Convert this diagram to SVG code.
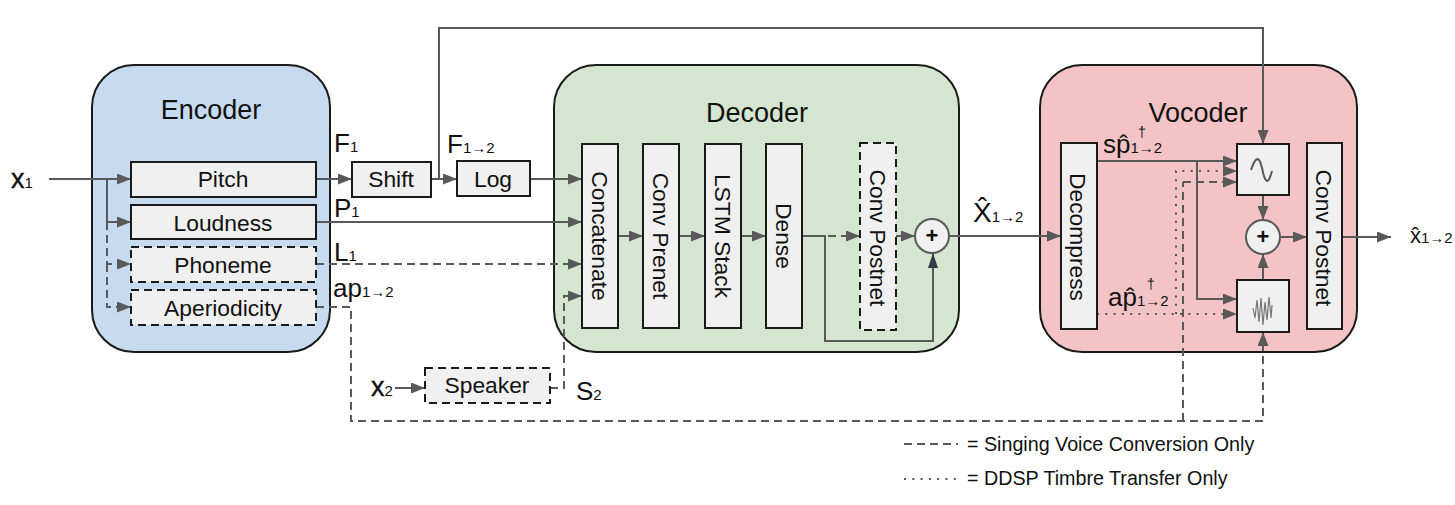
<svg xmlns="http://www.w3.org/2000/svg" width="1455" height="505" viewBox="0 0 1455 505">
<defs>
<marker id="a" viewBox="0 0 14 11" markerWidth="14" markerHeight="11" refX="14" refY="5.5" orient="auto" markerUnits="userSpaceOnUse"><path d="M0 0L14 5.5L0 11Z" fill="#595959"/></marker>
</defs>
<style>
text{font-family:"Liberation Sans",Arial,sans-serif;fill:#111}
.grp{stroke:#1a1a1a;stroke-width:2}
.box{fill:#f0f0f0;stroke:#1a1a1a;stroke-width:2}
.dbox{fill:#f0f0f0;stroke:#1a1a1a;stroke-width:2;stroke-dasharray:8 5}
.l{font-size:22.8px;text-anchor:middle}
.t{font-size:27px;text-anchor:middle}
.m{font-size:26px}
.m tspan.s{font-size:15px}
.xx{font-size:27px;stroke:#111;stroke-width:.4}
.xx tspan.s{font-size:15px;stroke:none}
.dg{font-size:14px}
.c{fill:none;stroke:#595959;stroke-width:2}
.e{marker-end:url(#a)}
.d{stroke-dasharray:8 5}
.o{stroke-dasharray:2 6.3}
</style>
<rect width="1455" height="505" fill="#fff"/>
<g id="encoder"><rect class="grp" x="92" y="65" width="238" height="287" rx="42" fill="#c6dbef"/><text class="t" x="211" y="119">Encoder</text></g>
<g id="decoder"><rect class="grp" x="554" y="65" width="405" height="287" rx="42" fill="#d4e5d0"/><text class="t" x="757" y="122">Decoder</text></g>
<g id="vocoder"><rect class="grp" x="1040" y="65" width="317" height="287" rx="42" fill="#f3c3c6"/><text class="t" x="1198" y="122">Vocoder</text></g>
<g id="connectors">
<path class="c e" d="M49 179H131"/>
<path class="c e" d="M107 179V222H131"/>
<path class="c e d" d="M107 222V264H131"/>
<path class="c e d" d="M107 264V307H131"/>
<path class="c e" d="M316 179H352"/>
<path class="c e" d="M431 179H457"/>
<path class="c e" d="M439 179V28H1263V144"/>
<path class="c e" d="M530 179H582"/>
<path class="c e" d="M316 222H582"/>
<path class="c e d" d="M316 264H582"/>
<path class="c e d" d="M316 307H351V421H1263V332"/>
<path class="c d" d="M1183 421V182"/>
<path class="c e d" d="M1183 182H1237"/>
<path class="c e" d="M395 388H425"/>
<path class="c e d" d="M550 388H564V296H582"/>
<path class="c e" d="M618 236H643"/>
<path class="c e" d="M679 236H705"/>
<path class="c e" d="M741 236H766"/>
<path class="c e d" d="M802 236H860"/>
<path class="c e" d="M896 236H915"/>
<path class="c" d="M802 236H825V341H933V253"/>
<path fill="#2f3e46" d="M928 268L933 253L938 268Z"/>
<path class="c e" d="M949 236H1061"/>
<path class="c e" d="M1097 161H1237"/>
<path class="c e o" d="M1176 314V171H1237"/>
<path class="c e" d="M1197 161V299H1237"/>
<path class="c e o" d="M1097 314H1237"/>
<path class="c e" d="M1263 195V220"/>
<path class="c e" d="M1263 280V254"/>
<path class="c e" d="M1280 237H1307"/>
<path class="c e" d="M1342 237H1391"/>
<path class="c d" d="M904 444H958"/>
<path class="c o" d="M904 479H958"/>
</g>
<g id="pitch"><rect class="box" x="131" y="162" width="185" height="35"/><text class="l" x="223" y="187">Pitch</text></g>
<g id="loudness"><rect class="box" x="131" y="205" width="185" height="34"/><text class="l" x="223" y="231">Loudness</text></g>
<g id="phoneme"><rect class="dbox" x="131" y="247" width="185" height="35"/><text class="l" x="223" y="273">Phoneme</text></g>
<g id="aperiodicity"><rect class="dbox" x="131" y="290" width="185" height="35"/><text class="l" x="223" y="316">Aperiodicity</text></g>
<g id="shift"><rect class="box" x="352" y="162" width="79" height="35"/><text class="l" x="391" y="187">Shift</text></g>
<g id="log"><rect class="box" x="457" y="161" width="73" height="35"/><text class="l" x="493" y="187">Log</text></g>
<g id="speaker"><rect class="dbox" x="425" y="368" width="125" height="35"/><text class="l" x="487" y="393">Speaker</text></g>
<g id="concatenate"><rect class="box" x="582" y="144" width="36" height="184"/><text class="l" transform="translate(591.5 236) rotate(90)">Concatenate</text></g>
<g id="conv-prenet"><rect class="box" x="643" y="144" width="36" height="184"/><text class="l" transform="translate(652.5 236) rotate(90)">Conv Prenet</text></g>
<g id="lstm-stack"><rect class="box" x="705" y="144" width="36" height="184"/><text class="l" transform="translate(714.5 236) rotate(90)">LSTM Stack</text></g>
<g id="dense"><rect class="box" x="766" y="144" width="36" height="184"/><text class="l" transform="translate(775.5 236) rotate(90)">Dense</text></g>
<g id="conv-postnet-decoder"><rect class="dbox" x="860" y="143" width="36" height="187"/><text class="l" transform="translate(869.5 238) rotate(90)">Conv Postnet</text></g>
<g id="plus-decoder"><circle cx="932" cy="236" r="17" fill="#f0f0f0" stroke="#595959" stroke-width="2"/><text x="932" y="243" font-size="22" font-weight="bold" text-anchor="middle">+</text></g>
<g id="decompress"><rect class="box" x="1061" y="143" width="36" height="186"/><text class="l" transform="translate(1070 237) rotate(90)">Decompress</text></g>
<g id="sine"><rect class="box" x="1237" y="144" width="52" height="51"/><path d="M1251 170C1255 158 1259 154 1262 168C1265 183 1268 186 1272 171" fill="none" stroke="#595959" stroke-width="2"/></g>
<g id="noise"><rect class="box" x="1237" y="280" width="52" height="52"/><path d="M1253 308L1255 318L1257 300L1259 322L1261 298L1263 325L1265 302L1267 320L1269 297L1271 318L1272 305" fill="none" stroke="#777" stroke-width="1.2"/></g>
<g id="plus-vocoder"><circle cx="1263" cy="237" r="17" fill="#f0f0f0" stroke="#595959" stroke-width="2"/><text x="1263" y="244" font-size="22" font-weight="bold" text-anchor="middle">+</text></g>
<g id="conv-postnet-vocoder"><rect class="box" x="1307" y="143" width="35" height="186"/><text class="l" transform="translate(1316 238) rotate(90)">Conv Postnet</text></g>
<g id="labels">
<text class="xx" x="11" y="188">x<tspan class="s">1</tspan></text>
<text class="m" x="334" y="152">F<tspan class="s">1</tspan></text>
<text class="m" x="447" y="153">F<tspan class="s">1→2</tspan></text>
<text class="m" x="334" y="217">P<tspan class="s">1</tspan></text>
<text class="m" x="334" y="261">L<tspan class="s">1</tspan></text>
<text class="m" x="333" y="297">ap<tspan class="s">1→2</tspan></text>
<text class="xx" x="371" y="396">x<tspan class="s">2</tspan></text>
<text class="m" x="576" y="400">S<tspan class="s">2</tspan></text>
<text class="m" x="973" y="222" style="font-size:28px">X&#770;<tspan class="s">1→2</tspan></text>
<text class="m" x="1103" y="153">sp&#770;<tspan class="s">1→2</tspan></text>
<text class="dg" x="1138" y="137">†</text>
<text class="m" x="1108" y="306">ap&#770;<tspan class="s">1→2</tspan></text>
<text class="dg" x="1147" y="289">†</text>
<text x="1410" y="243" font-size="22">x̂<tspan font-size="15">1→2</tspan></text>
<text x="967" y="451" font-size="19.7">= Singing Voice Conversion Only</text>
<text x="967" y="485" font-size="19.7">= DDSP Timbre Transfer Only</text>
</g>
</svg>
